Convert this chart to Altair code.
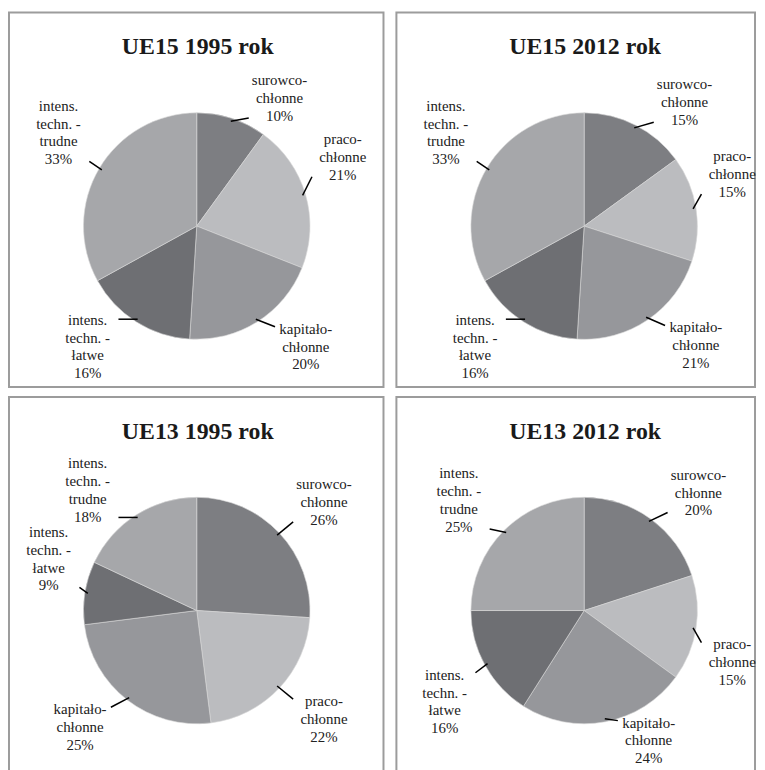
import altair as alt
import pandas as pd

titles = ["UE15 1995 rok", "UE15 2012 rok", "UE13 1995 rok", "UE13 2012 rok"]
categories = [
    "surowco-\nchłonne",
    "praco-\nchłonne",
    "kapitało-\nchłonne",
    "intens.\ntechn. -\nłatwe",
    "intens.\ntechn. -\ntrudne",
]
ue15_1995 = [10, 21, 20, 16, 33]
ue15_2012 = [15, 15, 21, 16, 33]
ue13_1995 = [26, 22, 25, 9, 18]
ue13_2012 = [20, 15, 24, 16, 25]
colors = ["#7d7e82", "#bbbcbf", "#96979b", "#6e6f73", "#a6a7aa"]

WL, WR = 377, 361
H = 377
CX, CY, R = 189, 215, 114
A, B = 150, 132      # label ellipse half-axes
HW = 28              # approx half width of a label block
LH = 18              # line height of labels
FONT = "Liberation Serif"


def panel(title, values, width, height):
    df = pd.DataFrame({
        "idx": list(range(len(values))),
        "cat": categories,
        "value": values,
        "label": [c + "\n" + f"{v}%" for c, v in zip(categories, values)],
    })
    base = (
        alt.Chart(df)
        .transform_window(cum="sum(value)", sort=[alt.SortField("idx")], frame=[None, 0])
        .transform_joinaggregate(total="sum(value)")
        .transform_calculate(mid="(datum.cum - datum.value/2)/datum.total*2*PI")
        .transform_calculate(
            s="sin(datum.mid)", c="cos(datum.mid)",
            n="length(split(datum.label, '\\n'))",
        )
        .transform_calculate(
            sx="datum.s >= 0 ? 1 : -1", sy="datum.c >= 0 ? 1 : -1",
            hh=f"datum.n*{LH}/2",
        )
        .transform_calculate(
            lx=f"{CX} + {A}*datum.sx*sqrt(abs(datum.s))",
            ly=f"{CY} - {B}*datum.sy*sqrt(abs(datum.c))",
            p1x=f"{CX} + {R - 3}*datum.s",
            p1y=f"{CY} - {R - 3}*datum.c",
        )
        .transform_calculate(
            ty=f"datum.ly - (datum.n - 1)*{LH}/2",
            ex=f"datum.sx > 0 ? max(datum.lx - {HW + 3}, datum.p1x + 8) : min(datum.lx + {HW + 3}, datum.p1x - 8)",
            ey="clamp(datum.p1y, datum.ly - datum.hh + 7, datum.ly + datum.hh - 7)",
        )
    )
    arc = alt.Chart(df).mark_arc(outerRadius=R, stroke="#d8d8d8", strokeWidth=0.6).encode(
        theta=alt.Theta("value:Q", stack=True),
        color=alt.Color("cat:N", scale=alt.Scale(domain=categories, range=colors), legend=None),
        order=alt.Order("idx:Q"),
        x=alt.value(CX),
        y=alt.value(CY),
    )
    rule = base.mark_rule(color="black", strokeWidth=1.5).encode(
        x=alt.X("p1x:Q", scale=None, axis=None),
        y=alt.Y("p1y:Q", scale=None, axis=None),
        x2="ex:Q",
        y2="ey:Q",
    )
    text = base.mark_text(
        font=FONT, fontSize=15, lineHeight=LH, lineBreak="\n",
        align="center", baseline="middle", color="#222222",
    ).encode(
        x=alt.X("lx:Q", scale=None, axis=None),
        y=alt.Y("ty:Q", scale=None, axis=None),
        text="label:N",
    )
    ttl = alt.Chart(pd.DataFrame({"t": [title]})).mark_text(
        font=FONT, fontSize=24, fontWeight="bold", baseline="alphabetic", color="#1a1a1a"
    ).encode(text="t:N", x=alt.value(CX + 1), y=alt.value(42))
    return alt.layer(arc, rule, text, ttl).properties(width=width, height=height)


p1 = panel(titles[0], ue15_1995, WL, H)
p2 = panel(titles[1], ue15_2012, WR, H)
p3 = panel(titles[2], ue13_1995, WL, H)
p4 = panel(titles[3], ue13_2012, WR, H)

chart = (
    alt.vconcat(
        alt.hconcat(p1, p2, spacing=11),
        alt.hconcat(p3, p4, spacing=11),
        spacing=8,
    )
    .properties(padding={"left": 0, "top": 1, "right": 0, "bottom": 0}, background="white")
    .configure_view(stroke="#9c9c9c", strokeWidth=2)
)

chart.save("out.html", embed_options={"renderer": "svg", "actions": False})
